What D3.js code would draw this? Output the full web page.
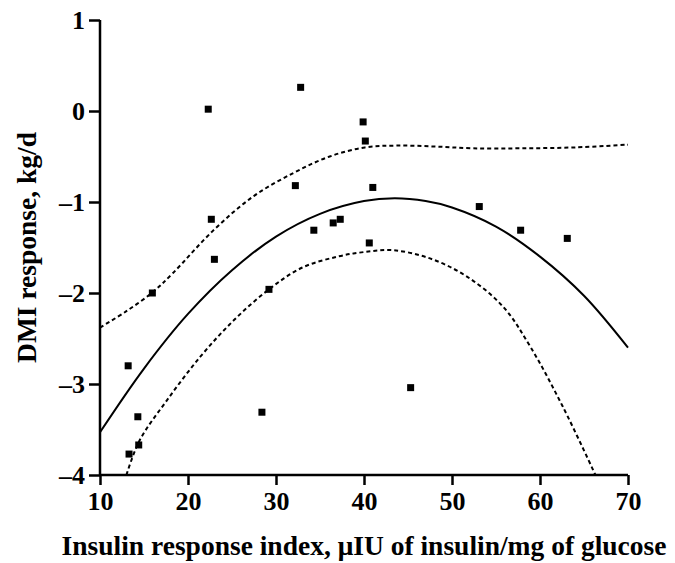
<!DOCTYPE html>
<html>
<head>
<meta charset="utf-8">
<script src="https://cdn.jsdelivr.net/npm/d3@7"></script>
<style>
  body { margin: 0; background: #fff; }
  text { font-family: "Liberation Serif", "Times New Roman", serif; font-weight: bold; fill: #000; }
</style>
</head>
<body>
<div id="chart"></div>
<script>
// data
var insulinIndex = [22.3, 32.8, 32.2, 22.65, 23.0, 34.3, 36.5, 37.3, 39.9, 40.15, 41.0, 40.6, 53.1, 57.8, 63.1, 15.95, 29.2, 13.2, 14.3, 14.4, 13.3, 28.4, 45.3];
var dmiResponse  = [0.02, 0.26, -0.82, -1.19, -1.63, -1.31, -1.23, -1.19, -0.12, -0.33, -0.84, -1.45, -1.05, -1.31, -1.40, -2.0, -1.96, -2.80, -3.36, -3.67, -3.77, -3.31, -3.04];

// fitted curve
var fitX = [10, 15, 20, 25, 30, 35, 40, 43.5, 47, 50, 55, 60, 65, 70];
var fitY = [-3.53, -2.83, -2.23, -1.75, -1.38, -1.13, -0.99, -0.96, -0.99, -1.06, -1.27, -1.60, -2.03, -2.60];

// upper confidence band
var upperX = [10, 13, 16, 18.3, 22.9, 27.4, 32, 36.1, 40.1, 43.7, 48, 52.4, 58, 64, 70];
var upperY = [-2.38, -2.20, -1.99, -1.78, -1.31, -0.94, -0.68, -0.50, -0.40, -0.38, -0.39, -0.41, -0.41, -0.40, -0.37];

// lower confidence band
var lowerX = [13.0, 14.5, 17.6, 21.4, 25.2, 29.2, 33, 37, 40, 43.3, 47.5, 51.7, 55.8, 58.9, 62.6, 66.3];
var lowerY = [-4.0, -3.62, -3.18, -2.70, -2.30, -1.96, -1.72, -1.60, -1.55, -1.53, -1.62, -1.82, -2.15, -2.59, -3.25, -4.0];

var xTicks = [10, 20, 30, 40, 50, 60, 70];
var yTicks = [1, 0, -1, -2, -3, -4];
var yTickLabels = ["1", "0", "\u20131", "\u20132", "\u20133", "\u20134"];

var width = 675, height = 563;
var margin = {top: 20, right: 47, bottom: 88, left: 100};

var svg = d3.select("#chart")
  .append("svg")
    .attr("width", width)
    .attr("height", height);

var x = d3.scaleLinear()
  .domain([10, 70])
  .range([margin.left, width - margin.right]);

var y = d3.scaleLinear()
  .domain([-4, 1])
  .range([height - margin.bottom, margin.top]);

// axes
var xAxis = svg.append("g")
  .attr("transform", "translate(0," + y(-4) + ")")
  .call(d3.axisBottom(x).tickValues(xTicks).tickSize(10).tickPadding(7).tickFormat(d3.format("d")));

var yAxis = svg.append("g")
  .attr("transform", "translate(" + x(10) + ",0)")
  .call(d3.axisLeft(y).tickValues(yTicks).tickSize(11).tickPadding(4)
    .tickFormat(function(d, i) { return yTickLabels[i]; }));

[xAxis, yAxis].forEach(function(g) {
  g.select(".domain").attr("stroke", "#000").attr("stroke-width", 2.5);
  g.selectAll(".tick line").attr("stroke", "#000").attr("stroke-width", 2.5);
  g.selectAll(".tick text")
    .style("font-family", "'Liberation Serif', serif")
    .style("font-weight", "bold")
    .style("font-size", "26px")
    .attr("fill", "#000");
});
xAxis.select(".domain").attr("d", "M" + x(10) + ",0H" + x(70));
yAxis.select(".domain").attr("d", "M0," + y(-4) + "V" + y(1));

var line = d3.line()
  .x(function(d) { return x(d[0]); })
  .y(function(d) { return y(d[1]); })
  .curve(d3.curveCatmullRom.alpha(0.5));

svg.append("path")
  .datum(d3.zip(fitX, fitY))
  .attr("d", line)
  .attr("fill", "none")
  .attr("stroke", "#000")
  .attr("stroke-width", 2);

svg.append("path")
  .datum(d3.zip(upperX, upperY))
  .attr("d", line)
  .attr("fill", "none")
  .attr("stroke", "#000")
  .attr("stroke-width", 2)
  .attr("stroke-dasharray", "4,3");

svg.append("path")
  .datum(d3.zip(lowerX, lowerY))
  .attr("d", line)
  .attr("fill", "none")
  .attr("stroke", "#000")
  .attr("stroke-width", 2)
  .attr("stroke-dasharray", "4,3");

// points
var sq = 7;
svg.selectAll(".pt")
  .data(d3.zip(insulinIndex, dmiResponse))
  .enter()
  .append("rect")
    .attr("class", "pt")
    .attr("x", function(d) { return x(d[0]) - sq / 2; })
    .attr("y", function(d) { return y(d[1]) - sq / 2; })
    .attr("width", sq)
    .attr("height", sq)
    .attr("fill", "#000");

// axis titles
svg.append("text")
  .attr("x", (x(10) + x(70)) / 2)
  .attr("y", 555)
  .attr("text-anchor", "middle")
  .style("font-size", "27.5px")
  .text("Insulin response index, \u03bcIU of insulin/mg of glucose");

svg.append("text")
  .attr("transform", "translate(36," + ((y(1) + y(-4)) / 2) + ") rotate(-90)")
  .attr("text-anchor", "middle")
  .style("font-size", "27.5px")
  .text("DMI response, kg/d");
</script>
</body>
</html>
